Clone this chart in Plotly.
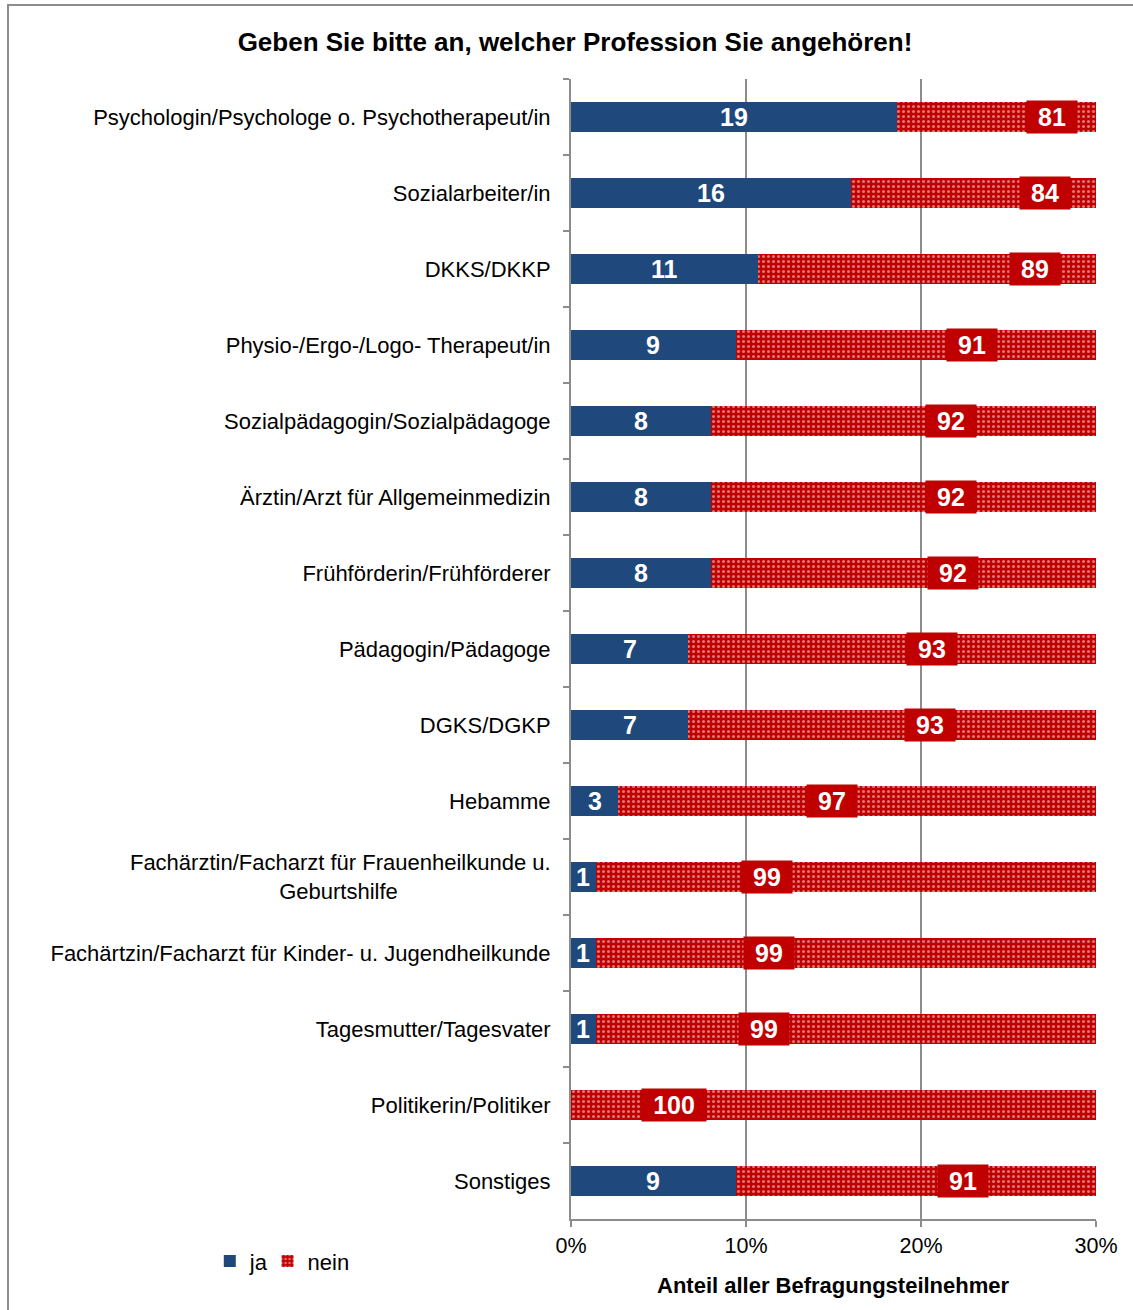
import plotly.graph_objects as go

# Survey data: share of respondents per profession (percent)
categories = [
    "Psychologin/Psychologe o. Psychotherapeut/in",
    "Sozialarbeiter/in",
    "DKKS/DKKP",
    "Physio-/Ergo-/Logo- Therapeut/in",
    "Sozialpädagogin/Sozialpädagoge",
    "Ärztin/Arzt für Allgemeinmedizin",
    "Frühförderin/Frühförderer",
    "Pädagogin/Pädagoge",
    "DGKS/DGKP",
    "Hebamme",
    # second line padded so that it sits centred under the first one
    "Fachärztin/Facharzt für Frauenheilkunde u.<br>Geburtshilfe" + "\u00a0" * 25,
    "Fachärtzin/Facharzt für Kinder- u. Jugendheilkunde",
    "Tagesmutter/Tagesvater",
    "Politikerin/Politiker",
    "Sonstiges",
]
ja_values = [18.6, 16.0, 10.7, 9.4, 8.0, 8.0, 8.0, 6.7, 6.7, 2.7, 1.4, 1.4, 1.4, 0.0, 9.4]
ja_labels = [19, 16, 11, 9, 8, 8, 8, 7, 7, 3, 1, 1, 1, 0, 9]
nein_values = [81.4, 84.0, 89.3, 90.6, 92.0, 92.0, 92.0, 93.3, 93.3, 97.3, 98.6, 98.6, 98.6, 100.0, 90.6]
nein_labels = [81, 84, 89, 91, 92, 92, 92, 93, 93, 97, 99, 99, 99, 100, 91]

x_tick_vals = [0, 10, 20, 30]
x_tick_text = ["0%", "10%", "20%", "30%"]

# Where the "nein" value boxes sit along the x axis
nein_label_x = [27.5, 27.1, 26.5, 22.9, 21.7, 21.7, 21.8, 20.6, 20.5, 14.9, 11.2, 11.3, 11.0, 5.9, 22.4]

BLUE = "#1F497D"
RED = "#C00000"
GRAY = "#8C8C8C"
FONT = "Liberation Sans, Arial, sans-serif"

fig = go.Figure()
fig.add_trace(go.Bar(
    y=categories, x=ja_values, name="ja", orientation="h",
    marker=dict(color=BLUE, line=dict(width=0)),
    width=0.4, legend="legend", showlegend=True,
))
fig.add_trace(go.Bar(
    y=categories, x=nein_values, name="nein", orientation="h",
    marker=dict(
        color=RED, line=dict(width=0),
        pattern=dict(shape=".", fgcolor="#FCE8E8", bgcolor=RED, size=5, solidity=0.3),
    ),
    width=0.4, legend="legend2", showlegend=True,
))

annotations = []
for cat, ja, lab in zip(categories, ja_values, ja_labels):
    if lab > 0:
        annotations.append(dict(
            x=ja / 2, y=cat, xref="x", yref="y", text=f"<b>{lab}</b>",
            showarrow=False, font=dict(color="white", size=25, family=FONT),
        ))
for cat, xpos, lab in zip(categories, nein_label_x, nein_labels):
    annotations.append(dict(
        x=xpos, y=cat, xref="x", yref="y", text=f"<b>{lab}</b>",
        showarrow=False, font=dict(color="white", size=25, family=FONT),
        bgcolor=RED, borderpad=2, width=len(str(lab)) * 14 + 18,
    ))
# Axis title
annotations.append(dict(
    x=0.5, y=-0.058, xref="paper", yref="paper", yanchor="middle",
    text="<b>Anteil aller Befragungsteilnehmer</b>", showarrow=False,
    font=dict(color="black", size=22, family=FONT),
))

legend_style = dict(
    orientation="h", xanchor="left", y=-0.037, yanchor="middle",
    font=dict(size=22, family=FONT), itemwidth=30, bgcolor="rgba(0,0,0,0)",
    visible=True,
)

fig.update_layout(
    width=1133, height=1310,
    margin=dict(l=571, r=37, t=79, b=91),
    paper_bgcolor="white", plot_bgcolor="white",
    barmode="stack", bargap=0.6,
    showlegend=True,
    font=dict(family=FONT, color="black", size=22),
    title=dict(
        text="<b>Geben Sie bitte an, welcher Profession Sie angehören!</b>",
        x=575 / 1133, xanchor="center", xref="container",
        y=1 - 42 / 1310, yanchor="middle", yref="container",
        font=dict(size=26, family=FONT, color="black"),
    ),
    legend=dict(x=-0.688, **legend_style),
    legend2=dict(x=-0.578, **legend_style),
    annotations=annotations,
    shapes=[
        dict(type="rect", xref="paper", yref="paper",
             x0=(8 - 571) / 525, x1=(1160 - 571) / 525,
             y0=(1219 - 1330) / 1140, y1=(1219 - 5) / 1140,
             line=dict(color=GRAY, width=2), fillcolor="rgba(0,0,0,0)", layer="below"),
    ],
)
fig.update_xaxes(
    range=[0, 30], tickvals=x_tick_vals, ticktext=x_tick_text,
    showgrid=True, gridcolor=GRAY, gridwidth=2,
    showline=True, linecolor=GRAY, linewidth=2,
    ticks="outside", ticklen=6, tickcolor=GRAY, tickwidth=2,
    tickfont=dict(size=21.5, family=FONT, color="black"),
    zeroline=False, fixedrange=True,
)
fig.update_yaxes(
    autorange="reversed", type="category",
    showgrid=False, showline=True, linecolor=GRAY, linewidth=2,
    ticks="outside", tickson="boundaries", ticklen=6, tickcolor=GRAY, tickwidth=2,
    tickfont=dict(size=22, family=FONT, color="black"),
    ticklabelstandoff=14,
)

fig.write_html("out.html")
